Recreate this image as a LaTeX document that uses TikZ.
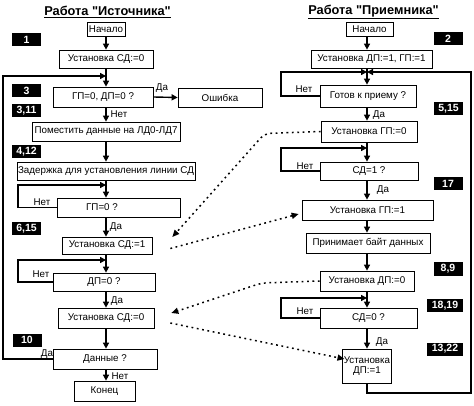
\documentclass[tikz,border=0pt]{standalone}
\usepackage{fontspec}
\setmainfont{Liberation Sans}[Ligatures=TeXOff]
\usetikzlibrary{arrows.meta,calc}
\begin{document}
\begin{tikzpicture}[x=1pt,y=-1pt,
  box/.style={draw=black, line width=0.7pt, inner xsep=1pt, inner ysep=0pt, font=\fontsize{9.8}{11}\selectfont},
  num/.style={fill=black, text=white, font=\bfseries\fontsize{10.5}{12}\selectfont, minimum width=29pt, minimum height=13pt, inner sep=0pt},
  lab/.style={font=\fontsize{9.8}{11}\selectfont, inner sep=0pt},
  ttl/.style={font=\bfseries\fontsize{12.8}{14}\selectfont, inner sep=0pt},
  arr/.style={line width=1.4pt, -{Triangle[length=6pt,width=6pt]}},
  dotarr/.style={line width=1.5pt, dash pattern=on 1.8pt off 3.6pt, -{Triangle[length=7pt,width=6pt]}}
]
\fill[white] (0,0) rectangle (474,406);
\useasboundingbox (0,0) rectangle (474,406);

% titles
\node[ttl] (tl) at (107.5,12) {\underline{Работа "Источника"}};
\node[ttl] (tr) at (373.5,12) {\underline{Работа "Приемника"}};

% column coordinates
\coordinate (cl) at (106,0);
\coordinate (cr) at (367,0);
\coordinate (lx) at (18,0);
\coordinate (ox) at (3,0);
\coordinate (rlx) at (281,0);
\coordinate (j2) at (106,76);
\coordinate (j5) at (106,185);
\coordinate (j7) at (106,260);
\coordinate (jr2) at (367,72);
\coordinate (jr4) at (367,148);
\coordinate (jr8) at (367,298);
\coordinate (rb) at (471,393);

% left column
\node[box,minimum width=38pt,minimum height=14pt] (Ls) at (106,29) {Начало};
\node[box,minimum width=94pt,minimum height=18pt] (L1) at (106,59) {Установка СД:=0};
\node[box,minimum width=100pt,minimum height=20pt] (L2) at (103,97) {ГП=0, ДП=0 ?};
\node[box,minimum width=84pt,minimum height=19pt] (Err) at (220,97.5) {Ошибка};
\node[box,minimum width=148pt,minimum height=19pt] (L3) at (106,131.5) {Поместить данные на ЛД0-ЛД7};
\node[box,minimum width=178pt,minimum height=18pt] (L4) at (106,171) {Задержка для установления линии СД};
\node[box,minimum width=123pt,minimum height=19pt] (L5) at (118.5,207.5) {ГП=0 ?\hspace*{33pt}};
\node[box,minimum width=90pt,minimum height=17pt] (L6) at (107,245.5) {Установка СД:=1};
\node[box,minimum width=102pt,minimum height=18pt] (L7) at (104,282) {ДП=0 ?};
\node[box,minimum width=96pt,minimum height=20pt] (L8) at (106,318) {Установка СД:=0};
\node[box,minimum width=104pt,minimum height=20pt] (L9) at (105,359) {Данные ?};
\node[box,minimum width=61pt,minimum height=20pt] (Le) at (104.5,391) {Конец};

% right column
\node[box,minimum width=47pt,minimum height=14pt] (Rs) at (369.5,29) {Начало};
\node[box,minimum width=121pt,minimum height=18pt] (R1) at (371.5,59) {Установка ДП:=1, ГП:=1};
\node[box,minimum width=96pt,minimum height=22pt] (R2) at (368,96) {Готов к приему ?};
\node[box,minimum width=96pt,minimum height=21pt] (R3) at (369,131.5) {Установка ГП:=0};
\node[box,minimum width=98pt,minimum height=18pt] (R4) at (369,171) {СД=1 ?};
\node[box,minimum width=131pt,minimum height=20pt] (R5) at (367.5,210) {Установка ГП:=1};
\node[box,minimum width=124pt,minimum height=20pt] (R6) at (368,243) {Принимает байт данных};
\node[box,minimum width=94pt,minimum height=20pt] (R7) at (367,281) {Установка ДП:=0};
\node[box,minimum width=97pt,minimum height=20pt] (R8) at (368.5,318) {СД=0 ?};
\node[box,minimum width=48pt,minimum height=34pt,align=center] (R9) at (367,366) {Установка\\[-1pt]ДП:=1};

% number tags
\node[num] (n1) at (26.5,39.5) {1};
\node[num] (n3) at (26.5,90.5) {3};
\node[num] (n311) at (26.5,111) {3,11};
\node[num] (n412) at (26.5,151.5) {4,12};
\node[num] (n615) at (26.5,228.5) {6,15};
\node[num] (n10) at (27,340) {10};
\node[num] (n2) at (448,39) {2};
\node[num] (n515) at (448.5,109) {5,15};
\node[num] (n17) at (448,183.5) {17};
\node[num] (n89) at (448,269) {8,9};
\node[num,minimum width=36pt] (n1819) at (445,305.5) {18,19};
\node[num,minimum width=36pt] (n1322) at (445,349) {13,22};

% left arrows
\draw[arr] (Ls.south -| cl) -- (L1.north -| cl);
\draw[arr] (L1.south -| cl) -- (L2.north -| cl);
\draw[arr] (L2.east) -- (Err.west);
\draw[arr] (L2.south -| cl) -- (L3.north -| cl);
\draw[arr] (L3.south -| cl) -- (L4.north -| cl);
\draw[arr] (L4.south -| cl) -- (L5.north -| cl);
\draw[arr] (L5.south -| cl) -- (L6.north -| cl);
\draw[arr] (L6.south -| cl) -- (L7.north -| cl);
\draw[arr] (L7.south -| cl) -- (L8.north -| cl);
\draw[arr] (L8.south -| cl) -- (L9.north -| cl);
\draw[arr] (L9.south -| cl) -- (Le.north -| cl);
% left loops
\draw[arr] (L5.west) -| (lx |- j5) -- (j5);
\draw[arr] (L7.west) -| (lx |- j7) -- (j7);
\draw[arr] (L9.west) -| (ox |- j2) -- (j2);

% right arrows
\draw[arr] (Rs.south -| cr) -- (R1.north -| cr);
\draw[arr] (R1.south -| cr) -- (R2.north -| cr);
\draw[arr] (R2.south -| cr) -- (R3.north -| cr);
\draw[arr] (R3.south -| cr) -- (R4.north -| cr);
\draw[arr] (R4.south -| cr) -- (R5.north -| cr);
\draw[arr] (R5.south -| cr) -- (R6.north -| cr);
\draw[arr] (R6.south -| cr) -- (R7.north -| cr);
\draw[arr] (R7.south -| cr) -- (R8.north -| cr);
\draw[arr] (R8.south -| cr) -- (R9.north -| cr);
% right loops
\draw[arr] (R2.west) -| (rlx |- jr2) -- (jr2);
\draw[arr] (R4.west) -| (rlx |- jr4) -- (jr4);
\draw[arr] (R8.west) -| (rlx |- jr8) -- (jr8);
\draw[arr] (R9.south) |- (rb) -- (rb |- jr2) -- (jr2);

% branch labels
\node[lab] (t1) at (162,88) {Да};
\node[lab] (t2) at (119,114) {Нет};
\node[lab] (t3) at (42,202) {Нет};
\node[lab] (t4) at (116,227) {Да};
\node[lab] (t5) at (41,274.5) {Нет};
\node[lab] (t6) at (117,301) {Да};
\node[lab] (t7) at (47,354) {Да};
\node[lab] (t8) at (120,376) {Нет};
\node[lab] (t9) at (304,89) {Нет};
\node[lab] (t10) at (379,115) {Да};
\node[lab] (t11) at (305,166) {Нет};
\node[lab] (t12) at (383,190) {Да};
\node[lab] (t13) at (305,311) {Нет};
\node[lab] (t14) at (382,342) {Да};

% dotted handshake arrows
\coordinate (d1e) at ($(L6.east)+(20,-8.5)$);
\coordinate (d2s) at ($(L6.east)+(18,3)$);
\coordinate (d2e) at ($(R5.west)+(-3,4)$);
\coordinate (d3e) at ($(L8.east)+(17,-5)$);
\coordinate (d4s) at ($(L8.east)+(16,5)$);
\coordinate (d4e) at ($(R9.west)+(2,-7)$);
\draw[dotarr,rounded corners=6pt] (R3.west) -- ($(R3.west)+(-56,2)$) -- (d1e);
\draw[dotarr] (d2s) -- (d2e);
\draw[dotarr,rounded corners=6pt] (R7.west) -- ($(R7.west)+(-58,2)$) -- (d3e);
\draw[dotarr] (d4s) -- (d4e);
\end{tikzpicture}
\end{document}
